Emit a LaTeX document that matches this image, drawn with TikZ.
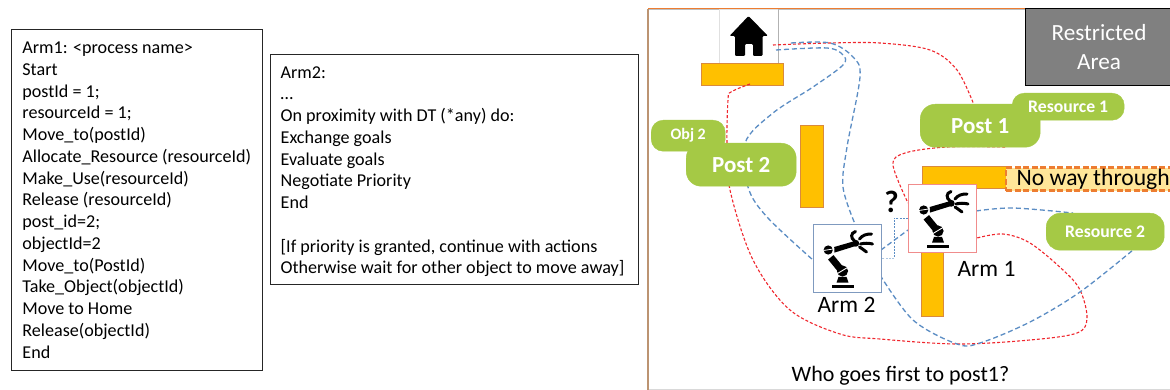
\documentclass[tikz,border=0pt]{standalone}
\usepackage{fontspec}
\setmainfont{Carlito}
\definecolor{grn}{HTML}{A5C945}
\definecolor{bar}{HTML}{FFC000}
\definecolor{barline}{HTML}{D98A3D}
\definecolor{org}{HTML}{ED7D31}
\definecolor{tan}{HTML}{BC9472}
\definecolor{bluedash}{HTML}{5B8DC4}
\definecolor{reddash}{HTML}{F0272E}
\definecolor{armblue}{HTML}{7F9ABF}
\definecolor{armred}{HTML}{F08C8C}
\tikzset{
 x=1pt,y=-1pt,
 codebox/.style={draw=black!85,line width=1pt,fill=white,align=left,anchor=north west,inner sep=0pt,font=\fontsize{18.1}{21.75}\selectfont},
 barbox/.style={draw=barline,line width=1pt,fill=bar,anchor=north west,inner sep=0pt},
 pill/.style={fill=grn,draw=grn,rounded corners=#1,text=white,anchor=north west,inner sep=0pt,font=\bfseries\fontsize{17.7}{18}\selectfont},
 armbox/.style={fill=white,line width=1.3pt,anchor=north west,inner sep=0pt,minimum width=68pt,minimum height=68pt},
 lbl/.style={font=\fontsize{23.5}{24}\selectfont,inner sep=0pt},
 reddsh/.style={draw=reddash,line width=1.1pt,dash pattern=on 3pt off 2pt},
 bluedsh/.style={draw=bluedash,line width=1.3pt,dash pattern=on 5pt off 3pt},
 thindsh/.style={draw=bluedash,line width=.5pt,dash pattern=on 2pt off 1.2pt},
}
\newcommand{\robotat}[1]{%
 \begin{scope}[shift={(#1)}]
  \fill (19.3,61.2) rectangle (41,64.4);
  \fill (26,52.8) -- (34,52.8) -- (36,58.7) -- (24,58.7) -- cycle;
  \draw[line width=7pt] (18.3,33.3) -- (27.3,44.3);
  \fill (30,47) circle (5.6);
  \draw[white,line width=.9pt] (25,49.5) -- (35,43.5);
  \fill (15.7,26) circle (4.6);
  \draw[white,line width=.8pt] (11,26.5) -- (20.5,25);
  \fill (21.7,23) -- (22,28.6) -- (42.5,22.2) -- (41.7,17.2) -- cycle;
  \fill (43.3,19.3) circle (3.4);
  \draw[line width=3pt,line cap=round] (43,7.5) .. controls (38,9) and (38,14) .. (42,17);
  \draw[line width=3pt,line cap=round] (47,15) .. controls (50,11) and (54,10) .. (59,10);
  \draw[line width=3pt,line cap=round] (48,20) .. controls (52,19) and (56,19) .. (60,20);
  \draw[line width=3pt,line cap=round] (47,23) .. controls (49,24) and (51,26) .. (54,28);
 \end{scope}}
\begin{document}
\begin{tikzpicture}
\useasboundingbox (0,0) rectangle (1170,390);
\fill[white] (0,0) rectangle (1170,390);
% text panels
\node[codebox,minimum height=340pt,minimum width=251.5pt] (arm1code) at (10.5,29.5) {Arm1: <process name>\\Start\\postId = 1;\\resourceId = 1;\\Move\_to(postId)\\Allocate\_Resource (resourceId)\hspace*{5pt}\\Make\_Use(resourceId)\\Release (resourceId)\\post\_id=2;\\objectId=2\\Move\_to(PostId)\\Take\_Object(objectId)\\Move to Home\\Release(objectId)\\End};
\node[codebox,minimum height=230pt,minimum width=368pt] (arm2code) at (270,54) {\rule{0pt}{16pt}Arm2:\\…\\On proximity with DT (*any) do:\\Exchange goals\\Evaluate goals\\Negotiate Priority\\End\\[21.75pt]{[}If priority is granted, continue with actions\\Otherwise wait for other object to move away{]}\hspace*{4pt}};
% frame
\draw[line width=1pt,black!15] (649,389) -- (1170,389);
\draw[line width=1pt,black!25] (649,9.8) -- (1025,9.8);
\draw[line width=1pt,org] (648,8.8) -- (1025,8.8);
\draw[line width=1.6pt,tan] (648,9) -- (648,390);
% restricted
\node[fill=black!50,draw=black,line width=1pt,anchor=north west,minimum width=147pt,minimum height=77pt,inner sep=0pt,text=white,align=center,font=\fontsize{23.2}{29}\selectfont] (restricted) at (1025,8.5) {Restricted\\Area};
% home
\node[draw=black!12,fill=white,line width=.6pt,anchor=north west,minimum width=59pt,minimum height=54pt,inner sep=0pt] (home) at (719,9) {};
\draw[line width=.6pt,black!30] (home.north east) -- (home.south east);
\begin{scope}[shift={(home.north west)}]
 \fill[rounded corners=1.2pt] (29.5,7) -- (49,27) -- (43.5,27) -- (43.5,47) -- (34,47) -- (34,35) -- (26,35) -- (26,47) -- (16,47) -- (16,27) -- (10.5,27) -- cycle;
\end{scope}
% bars
\node[barbox,minimum width=82pt,minimum height=22pt] (homebar) at (701,63) {};
\node[barbox,minimum width=23pt,minimum height=82pt] (midbar) at (800,125) {};
\node[barbox,minimum width=84pt,minimum height=22pt] (post1bar) at (922,166) {};
\node[barbox,minimum width=22pt,minimum height=66pt] (arm1bar) at (921,250) {};
% named ends
\coordinate (rA) at (773,45);
\coordinate (rB) at (974,105);
\coordinate (rC) at (750,84);
\coordinate (rD) at (977,238);
\coordinate (rE) at (1005,147);
\coordinate (rF) at (908,203);
\coordinate (bA) at (776,50);
\coordinate (bB) at (813,260);
\coordinate (bC) at (791,43);
\coordinate (bD) at (855,224);
\coordinate (bE) at (881,250);
\coordinate (bF) at (908,230);
\coordinate (bG) at (880,275);
\coordinate (bH) at (1133,250);
\coordinate (bI) at (976,211);
\coordinate (bJ) at (1073,213);
% red curves
\draw[reddsh] plot[smooth,tension=.55] coordinates {(rA) (830,43) (880,43) (930,50) (957,70) (rB)};
\draw[reddsh] plot[smooth,tension=.55] coordinates {(rC) (731,92) (728,100) (727,143) (730,190) (753,260) (790,310) (840,334) (880,339) (957,344) (1030,340) (1077,333) (1087,318) (1080,290) (1063,270) (1030,243) (1003,234) (rD)};
\draw[reddsh] plot[smooth,tension=.55] coordinates {(rE) (947,147) (905,153) (893,165) (rF)};
% blue curves
\draw[bluedsh] plot[smooth,tension=.55] coordinates {(bA) (827,48) (843,55) (843,65) (813,87) (773,113) (745,143) (748,187) (767,217) (bB)};
\draw[bluedsh] plot[smooth,tension=.55] coordinates {(bC) (830,43) (853,57) (860,77) (847,147) (843,187) (bD)};
\draw[bluedsh] (bE) -- (bF);
\draw[bluedsh] plot[smooth,tension=.55] coordinates {(bG) (913,320) (957,344) (980,343) (1030,322) (1080,292) (bH)};
\draw[bluedsh] plot[smooth,tension=.55] coordinates {(bI) (1013,208) (bJ)};
% proximity bracket
\coordinate (pA) at (908,218);
\coordinate (pB) at (894,218);
\coordinate (pC) at (894,258);
\coordinate (pD) at (881,258);
\draw[thindsh] (pA) -- (pB) -- (pC);
\draw[thindsh,bluedash!50] (pC) -- (pD);
% pills
\node[pill=12pt,minimum width=74pt,minimum height=31pt,font=\bfseries\fontsize{16}{18}\selectfont] (obj2) at (651,120) {Obj 2};
\node[pill=15pt,minimum width=110pt,minimum height=43pt,font=\bfseries\fontsize{23}{24}\selectfont] (post2) at (686,143) {Post 2};
\node[pill=15pt,minimum width=120pt,minimum height=43pt,font=\bfseries\fontsize{23}{24}\selectfont] (post1) at (920,104) {Post 1};
\node[pill=12pt,minimum width=112pt,minimum height=27pt] (res1) at (1012,93) {Resource 1};
\node[pill=14pt,minimum width=118pt,minimum height=37pt] (res2) at (1046,213) {Resource 2};
% no way through
\node[fill=bar!40!white,draw=org,line width=2.4pt,dash pattern=on 6pt off 2.5pt,anchor=north west,minimum height=23pt,minimum width=170pt,inner sep=0pt,font=\fontsize{23.6}{24}\selectfont] (noway) at (1005,166.5) {\hspace*{4pt}No way through};
% arms
\node[armbox,draw=armred] (arm1) at (908,184) {};
\node[armbox,draw=armblue] (arm2) at (812.5,224) {};
\robotat{arm1.north west}
\robotat{arm2.north west}
\node[lbl] (arm1lbl) at (986.5,269) {Arm 1};
\node[lbl] (arm2lbl) at (846.5,305) {Arm 2};
\node[font=\bfseries\fontsize{31}{31}\selectfont,inner sep=0pt] (qmark) at (891.5,202) {?};
\node[font=\fontsize{22}{26}\selectfont,inner sep=0pt] (who) at (900.5,376) {Who goes first to post1?};
\end{tikzpicture}
\end{document}
